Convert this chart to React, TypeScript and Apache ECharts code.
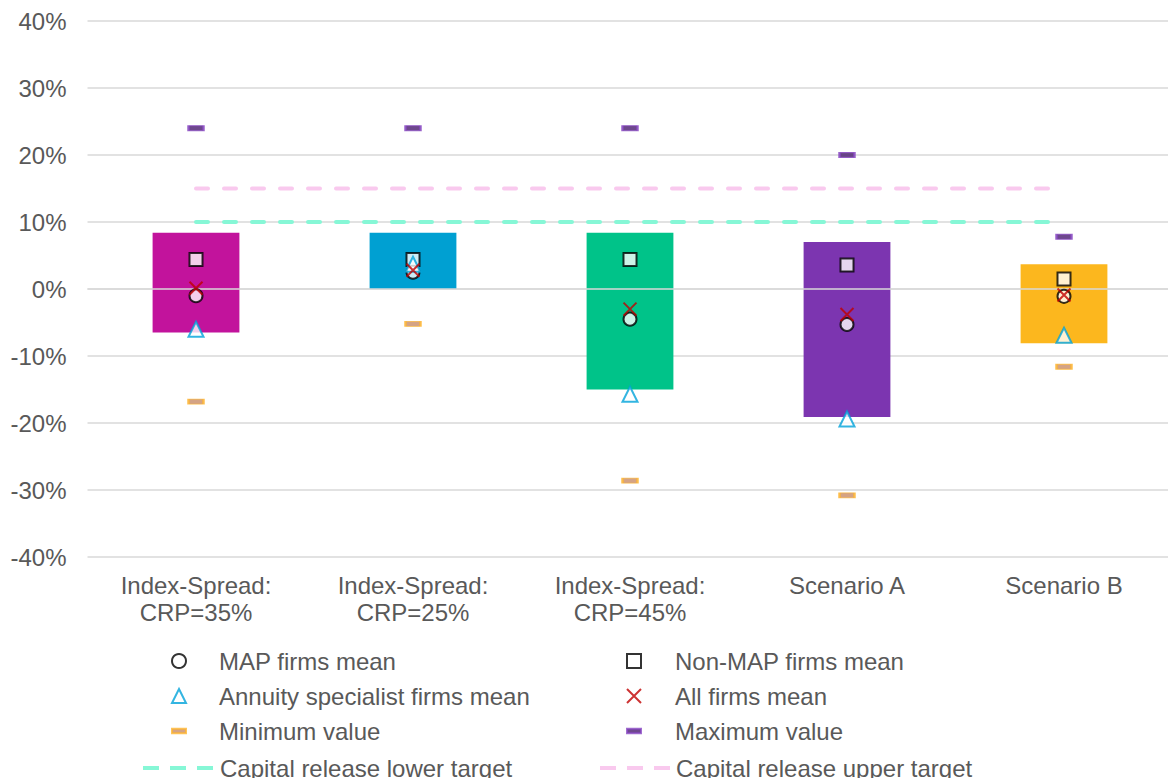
import React, { useEffect, useRef } from "react";
import * as echarts from "echarts";

const categories = ["Index-Spread:\nCRP=35%", "Index-Spread:\nCRP=25%", "Index-Spread:\nCRP=45%", "Scenario A", "Scenario B"];
const rangeTop = [8.4, 8.4, 8.4, 7.0, 3.7];
const rangeBottom = [-6.5, 0, -15.0, -19.1, -8.1];
const barColors = ["#c2139c", "#00a0d2", "#00c389", "#7c35b0", "#fcb71e"];
const mapMean = [-1.0, 2.5, -4.5, -5.3, -1.1];
const nonMapMean = [4.4, 4.4, 4.4, 3.6, 1.5];
const annuityMean = [-6.0, 3.7, -15.7, -19.4, -6.9];
const allMean = [0.1, 2.8, -3.0, -3.8, -0.9];
const minValue = [-16.8, -5.2, -28.6, -30.8, -11.6];
const maxValue = [24.0, 24.0, 24.0, 20.0, 7.8];
const lowerTarget = [10, 10, 10, 10, 10];
const upperTarget = [15, 15, 15, 15, 15];
const yTicks = { min: -40, max: 40, interval: 10 };

const FONT = "'Liberation Sans', Arial, sans-serif";
const TXT = "#595959";
const FS = 24;
const LOWER_C = "#86f7d6";
const UPPER_C = "#f9c9ee";

export default function App() {
  const ref = useRef<HTMLDivElement>(null);
  useEffect(() => {
    if (!ref.current) return;
    const chart = echarts.init(ref.current, undefined, { renderer: "svg" });
    const markerLegend = (left: number, top: number, data: any[], pad: number) => ({
      orient: "vertical",
      left,
      top,
      padding: 0,
      itemWidth: 14,
      itemHeight: 14,
      itemGap: 11,
      selectedMode: false,
      data,
      textStyle: { color: TXT, fontSize: FS, fontFamily: FONT, lineHeight: 24, padding: [0, 0, 0, pad] },
    });
    const rectIcon = "path://M0,0H16V5H0Z";
    const lineLegend = (left: number, width: number, name: string, color: string) => ({
      left, top: 756, padding: 0, itemWidth: width, itemHeight: 14, selectedMode: false,
      data: [{ name, itemStyle: { opacity: 0 }, lineStyle: { color, width: 4, type: [16, 11], cap: "butt" } }],
      textStyle: { color: TXT, fontSize: FS, fontFamily: FONT, lineHeight: 24 },
    });
    const option: any = {
      animation: false,
      textStyle: { fontFamily: FONT },
      grid: { left: 87.5, right: 7.5, top: 21, bottom: 221, containLabel: false },
      legend: [
        markerLegend(171, 649, ["MAP firms mean", "Annuity specialist firms mean", { name: "Minimum value", icon: rectIcon }], 28),
        markerLegend(626, 649, ["Non-MAP firms mean", "All firms mean", { name: "Maximum value", icon: rectIcon }], 29),
        lineLegend(141, 72, "Capital release lower target", LOWER_C),
        lineLegend(598, 71, "Capital release upper target", UPPER_C),
      ],
      xAxis: {
        type: "category",
        data: categories,
        axisLine: { show: false, onZero: false },
        axisTick: { show: false },
        axisLabel: { color: TXT, fontSize: FS, fontFamily: FONT, lineHeight: 27, margin: 15, interval: 0 },
      },
      yAxis: {
        type: "value",
        min: yTicks.min,
        max: yTicks.max,
        interval: yTicks.interval,
        axisLabel: { color: TXT, fontSize: FS, fontFamily: FONT, margin: 21, formatter: "{value}%" },
        splitLine: { lineStyle: { color: "#d9d9d9", width: 1.5 } },
        axisLine: { show: false },
        axisTick: { show: false },
      },
      series: [
        {
          name: "rangeTop",
          type: "bar",
          stack: "range",
          barWidth: "40%",
          data: rangeTop.map((v, i) => ({ value: v, itemStyle: { color: barColors[i] } })),
        },
        {
          name: "rangeBottom",
          type: "bar",
          stack: "range",
          barWidth: "40%",
          data: rangeBottom.map((v, i) => ({ value: v, itemStyle: { color: barColors[i] } })),
          markLine: {
            silent: true,
            symbol: "none",
            label: { show: false },
            lineStyle: { color: "#d9d9d9", width: 1.5, type: "solid" },
            data: [{ yAxis: 0 }],
          },
        },
        {
          name: "Capital release lower target",
          type: "line",
          data: lowerTarget,
          symbol: "none",
          lineStyle: { color: LOWER_C, width: 4, type: [12, 16], cap: "round" },
          itemStyle: { color: LOWER_C },
          z: 3,
        },
        {
          name: "Capital release upper target",
          type: "line",
          data: upperTarget,
          symbol: "none",
          lineStyle: { color: UPPER_C, width: 4, type: [12, 16], cap: "round" },
          itemStyle: { color: UPPER_C },
          z: 3,
        },
        {
          name: "Minimum value",
          type: "scatter",
          data: minValue,
          symbol: "rect",
          symbolSize: [15, 5],
          itemStyle: { color: "#c98c66", borderColor: "#ffb52e", borderWidth: 1.5 },
          z: 4,
        },
        {
          name: "Maximum value",
          type: "scatter",
          data: maxValue,
          symbol: "rect",
          symbolSize: [15, 5],
          itemStyle: { color: "#4a1a70", borderColor: "#8a48c4", borderWidth: 1.5 },
          z: 4,
        },
        {
          name: "Non-MAP firms mean",
          type: "scatter",
          data: nonMapMean,
          symbol: "rect",
          symbolSize: 13,
          itemStyle: { color: "#ffffff", borderColor: "#000000", borderWidth: 2 },
          z: 5,
        },
        {
          name: "MAP firms mean",
          type: "scatter",
          data: mapMean,
          symbol: "circle",
          symbolSize: 13,
          itemStyle: { color: "#ffffff", borderColor: "#000000", borderWidth: 2 },
          z: 5,
        },
        {
          name: "Annuity specialist firms mean",
          type: "scatter",
          data: annuityMean,
          symbol: "triangle",
          symbolSize: 15,
          itemStyle: { color: "#ffffff", borderColor: "#00a3d9", borderWidth: 2 },
          z: 5,
        },
        {
          name: "All firms mean",
          type: "scatter",
          data: allMean,
          symbol: "path://M0,0L10,10M10,0L0,10",
          symbolSize: 13,
          itemStyle: { color: "transparent", borderColor: "#c00000", borderWidth: 2 },
          z: 6,
        },
      ],
    };
    chart.setOption(option);
    return () => chart.dispose();
  }, []);
  return (
    <div style={{ position: "fixed", left: 0, top: 0, width: 1168, height: 778, overflow: "hidden", background: "#fff" }}>
      <div ref={ref} style={{ width: 1180, height: 778 }} />
    </div>
  );
}
